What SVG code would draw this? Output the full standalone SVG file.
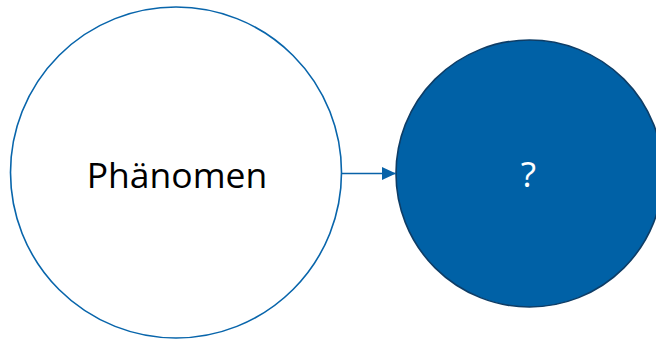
<svg xmlns="http://www.w3.org/2000/svg" width="656" height="339" viewBox="0 0 656 339">
<style>
.lbl{font-family:"Open Sans","Liberation Sans",sans-serif;font-size:35.5px;text-anchor:middle}
</style>
<defs>
<marker id="ah" markerUnits="userSpaceOnUse" markerWidth="14" markerHeight="13" refX="14" refY="6.5" orient="auto">
<path d="M0,0 L14,6.5 L0,13 Z" fill="#0862A8"/>
</marker>
</defs>
<rect width="656" height="339" fill="#ffffff"/>
<g id="node-phaenomen">
<circle cx="176" cy="172.5" r="165.5" fill="#ffffff" stroke="#0865AB" stroke-width="1.6"/>
<text class="lbl" x="177" y="188" fill="#000000">Phänomen</text>
</g>
<g id="node-question">
<circle cx="529.5" cy="173.5" r="133.5" fill="#0061A6" stroke="#0E3D66" stroke-width="1.6"/>
<text class="lbl" x="528.5" y="187" fill="#ffffff">?</text>
</g>
<g id="connectors">
<line x1="342" y1="173.5" x2="396" y2="173.5" stroke="#0862A8" stroke-width="1.4" marker-end="url(#ah)"/>
</g>
</svg>
